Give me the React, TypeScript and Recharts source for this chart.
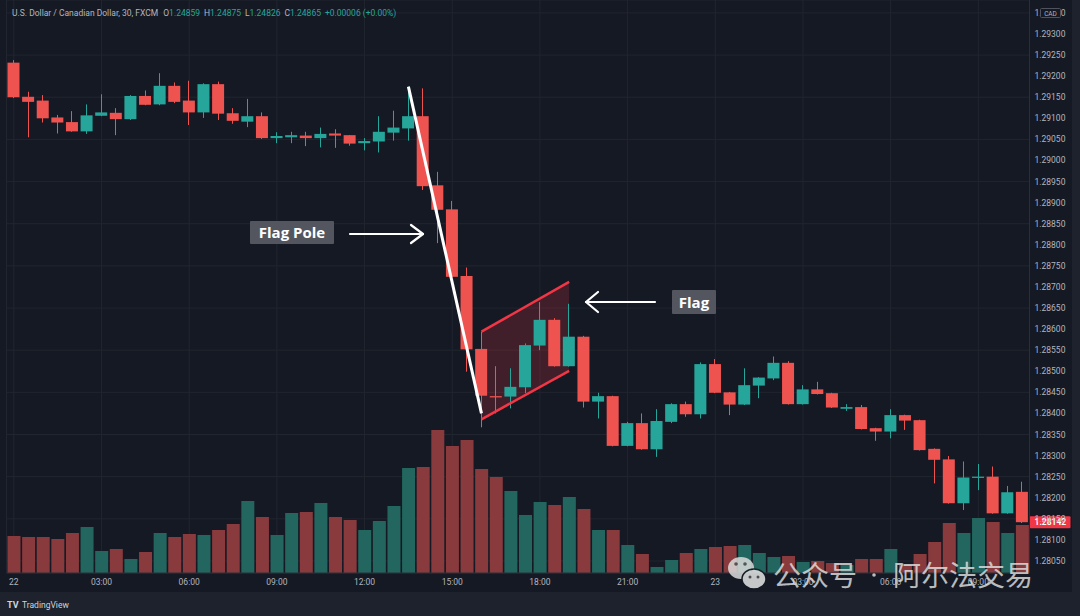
import React from "react"
import {
  ComposedChart,
  Bar,
  XAxis,
  YAxis,
  CartesianGrid,
  ReferenceLine,
  ReferenceArea,
} from "recharts"

const UP = "#26a69a"
const DOWN = "#ef5350"
const UP_VOL = "#22665f"
const DOWN_VOL = "#883a3d"
const TEXT = "#b2b5be"
const FONT = "Roboto, 'Noto Sans', sans-serif"

// 30 min bars, 22 00:00 -> 23 10:30
const times = Array.from({ length: 70 }, (_, i) => {
  const day = 22 + Math.floor(i / 48)
  const m = (i % 48) * 30
  return `${day} ${String(Math.floor(m / 60)).padStart(2, "0")}:${String(m % 60).padStart(2, "0")}`
})

const opens = [
  1.29232, 1.29151, 1.29142, 1.29102, 1.29091, 1.29069, 1.29106, 1.29113, 1.29098, 1.29153,
  1.29133, 1.29177, 1.29142, 1.29114, 1.29181, 1.29112, 1.29092, 1.29105, 1.29053, 1.29055,
  1.29059, 1.29053, 1.29064, 1.2906, 1.29041, 1.29045, 1.29066, 1.29076, 1.29105, 1.28941,
  1.28884, 1.28726, 1.28553, 1.28441, 1.2844, 1.28462, 1.28561, 1.28622, 1.28512, 1.28582,
  1.28428, 1.28441, 1.28323, 1.28377, 1.28315, 1.2838, 1.28422, 1.28398, 1.28517, 1.2845,
  1.28421, 1.28466, 1.28483, 1.2852, 1.28422, 1.28457, 1.28448, 1.28411, 1.28415, 1.28365,
  1.28357, 1.28396, 1.28384, 1.28316, 1.28291, 1.28187, 1.28247, 1.2825, 1.28163, 1.28214,
]
const highs = [
  1.29238, 1.29163, 1.29155, 1.29108, 1.29117, 1.29133, 1.29157, 1.29124, 1.29155, 1.29166,
  1.29207, 1.29185, 1.29189, 1.29183, 1.29187, 1.29124, 1.29146, 1.29114, 1.29067, 1.29068,
  1.29068, 1.29078, 1.29074, 1.2906, 1.29053, 1.29105, 1.29118, 1.29175, 1.29171, 1.28973,
  1.28904, 1.28746, 1.28594, 1.28512, 1.28507, 1.28566, 1.28664, 1.28626, 1.2866, 1.28584,
  1.28449, 1.28442, 1.2838, 1.284, 1.2841, 1.28424, 1.28428, 1.28521, 1.28529, 1.28451,
  1.28507, 1.28486, 1.28535, 1.28524, 1.28467, 1.28475, 1.28449, 1.28422, 1.2842, 1.28366,
  1.2841, 1.28397, 1.28385, 1.28317, 1.28299, 1.28286, 1.2828, 1.28274, 1.28228, 1.28238,
]
const lows = [
  1.29148, 1.29055, 1.2909, 1.29064, 1.29068, 1.29063, 1.29105, 1.2906, 1.29096, 1.29131,
  1.29131, 1.29136, 1.29084, 1.29101, 1.29096, 1.29087, 1.29079, 1.29051, 1.29041, 1.29041,
  1.29034, 1.29031, 1.2903, 1.29035, 1.29024, 1.29019, 1.29047, 1.29047, 1.2893, 1.28804,
  1.28723, 1.28499, 1.28367, 1.284, 1.28412, 1.28448, 1.2855, 1.28511, 1.28511, 1.28414,
  1.28388, 1.28322, 1.28322, 1.28314, 1.28297, 1.28377, 1.28392, 1.28388, 1.28448, 1.28396,
  1.2842, 1.28436, 1.28479, 1.28421, 1.28421, 1.28445, 1.28413, 1.28406, 1.28362, 1.28335,
  1.28341, 1.28361, 1.28312, 1.28234, 1.28186, 1.28171, 1.28218, 1.28162, 1.28162, 1.2814,
]
const closes = [
  1.2915, 1.29139, 1.291, 1.2909, 1.29069, 1.29107, 1.29114, 1.29098, 1.29153, 1.29132,
  1.29177, 1.29139, 1.29114, 1.29181, 1.29111, 1.29094, 1.29105, 1.29053, 1.29058, 1.2906,
  1.29053, 1.29063, 1.29059, 1.2904, 1.29046, 1.29068, 1.29078, 1.29105, 1.28939, 1.28883,
  1.28724, 1.28552, 1.28442, 1.28438, 1.28463, 1.28562, 1.28622, 1.28512, 1.28582, 1.28428,
  1.28441, 1.28323, 1.28377, 1.28315, 1.28382, 1.28422, 1.28398, 1.28517, 1.28449, 1.28421,
  1.28467, 1.28485, 1.2852, 1.28422, 1.28457, 1.28446, 1.28414, 1.28415, 1.28363, 1.28357,
  1.28396, 1.28383, 1.28313, 1.2829, 1.28187, 1.28248, 1.2825, 1.28163, 1.28213, 1.28142,
]
const volumes = [
  37, 36, 36, 34, 40, 46, 22, 24, 14, 21,
  40, 36, 39, 38, 43, 49, 72, 56, 38, 60,
  61, 70, 56, 53, 43, 52, 67, 105, 106, 143,
  127, 133, 104, 96, 82, 58, 71, 68, 76, 64,
  43, 43, 28, 19, 6, 13, 20, 24, 26, 27,
  28, 20, 16, 17, 11, 12, 10, 8, 14, 14,
  24, 8, 19, 31, 50, 40, 55, 51, 40, 48,
]

const priceTicks = [
  1.2805, 1.281, 1.2815, 1.282, 1.2825, 1.283, 1.2835, 1.284, 1.2845, 1.285,
  1.2855, 1.286, 1.2865, 1.287, 1.2875, 1.288, 1.2885, 1.289, 1.2895, 1.29,
  1.2905, 1.291, 1.2915, 1.292, 1.2925, 1.293, 1.2935,
]

// flag pole (bar 27 -> bar 32) and flag channel (bar 32 -> bar 38)
const poleTop = 1.29175
const poleBottom = 1.284
const flagUpper = [1.28594, 1.28712]
const flagLower = [1.28386, 1.28501]

const data = times.map((t, i) => ({
  t,
  open: opens[i],
  high: highs[i],
  low: lows[i],
  close: closes[i],
  vol: volumes[i],
}))

function Candle(props: any) {
  const { x, y, width, height, payload } = props
  if (!payload || height == null) return null
  const { open, close, high, low } = payload
  const h = Math.abs(height)
  const top = Math.min(y, y + height)
  const k = h / (high - low)
  const bodyTop = top + (high - Math.max(open, close)) * k
  const bodyBot = top + (high - Math.min(open, close)) * k
  const cx = Math.floor(x + width / 2) + 0.5
  const color = close >= open ? UP : DOWN
  return (
    <g>
      <line x1={cx} x2={cx} y1={top} y2={top + h} stroke={color} strokeWidth={1} />
      <rect x={x} y={bodyTop} width={width} height={Math.max(1, bodyBot - bodyTop)} fill={color} />
    </g>
  )
}

function VolumeBar(props: any) {
  const { x, y, width, height, payload } = props
  if (!payload) return null
  return (
    <rect
      x={x}
      y={y}
      width={width}
      height={Math.max(0, height)}
      fill={payload.close >= payload.open ? UP_VOL : DOWN_VOL}
    />
  )
}

function FlagFill(props: any) {
  const { x, y, width, height } = props
  const band = width / 7
  const lx = x + band / 2
  const rx = x + width - band / 2
  const k = height / (flagUpper[1] - flagLower[0])
  const pts = [
    [lx, y + (flagUpper[1] - flagUpper[0]) * k],
    [rx, y],
    [rx, y + (flagUpper[1] - flagLower[1]) * k],
    [lx, y + height],
  ]
  return <polygon points={pts.map((p) => p.join(",")).join(" ")} fill="rgba(242,54,69,0.2)" />
}

function PriceTag(props: any) {
  const { viewBox } = props
  if (!viewBox) return null
  const x = viewBox.x + viewBox.width
  const y = viewBox.y
  return (
    <g>
      <rect x={x} y={y - 6} width={41} height={12} fill="#f23645" rx={1} />
      <text x={x + 5} y={y + 3} fill="#fff" fontSize={8.5} fontWeight="bold" fontFamily={FONT}>
        {closes[closes.length - 1].toFixed(5)}
      </text>
    </g>
  )
}

function formatTime(t: string) {
  const [day, hm] = t.split(" ")
  return hm === "00:00" ? day : hm
}

export default function App() {
  return (
    <div
      style={{
        position: "absolute",
        left: 0,
        top: 0,
        width: 1080,
        height: 616,
        background: "#1e222d",
        overflow: "hidden",
        fontFamily: FONT,
      }}
    >
      <div style={{ position: "absolute", left: 0, top: 0, width: 1072, height: 592, background: "#151924" }} />
      <div style={{ position: "absolute", left: 0, top: 0 }}>
        <ComposedChart
          width={1080}
          height={616}
          data={data}
          margin={{ top: 0, right: 0, bottom: 0, left: 6.5 }}
        >
          <CartesianGrid stroke="#21252f" strokeWidth={1} />
          <XAxis
            dataKey="t"
            interval={5}
            height={43}
            tickLine={false}
            axisLine={{ stroke: "#2a2e39" }}
            tickSize={0}
            tickMargin={6}
            tickFormatter={formatTime}
            tick={{ fill: TEXT, fontSize: 8.5, fontFamily: FONT }}
          />
          <XAxis xAxisId="v" dataKey="t" hide />
          <YAxis
            orientation="right"
            width={50.5}
            type="number"
            domain={[1.280215, 1.293806]}
            allowDataOverflow
            ticks={priceTicks}
            tickFormatter={(v: number) => v.toFixed(5)}
            tickLine={false}
            tickSize={0}
            tickMargin={5}
            axisLine={{ stroke: "#2a2e39" }}
            tick={{ fill: TEXT, fontSize: 8.5, fontFamily: FONT }}
          />
          <YAxis yAxisId="v" hide domain={[0, 573]} />
          <Bar
            xAxisId="v"
            yAxisId="v"
            dataKey="vol"
            barSize={13}
            shape={VolumeBar}
            isAnimationActive={false}
          />
          <Bar
            dataKey={(d: any) => [d.low, d.high]}
            barSize={12}
            shape={Candle}
            isAnimationActive={false}
          />
          <ReferenceArea
            x1={times[32]}
            x2={times[38]}
            y1={flagLower[0]}
            y2={flagUpper[1]}
            shape={FlagFill}
          />
          <ReferenceLine
            segment={[
              { x: times[32], y: flagUpper[0] },
              { x: times[38], y: flagUpper[1] },
            ]}
            stroke="#f23645"
            strokeWidth={2.5}
          />
          <ReferenceLine
            segment={[
              { x: times[32], y: flagLower[0] },
              { x: times[38], y: flagLower[1] },
            ]}
            stroke="#f23645"
            strokeWidth={2.5}
          />
          <ReferenceLine
            segment={[
              { x: times[27], y: poleTop },
              { x: times[32], y: poleBottom },
            ]}
            stroke="#ffffff"
            strokeWidth={3}
          />
          <ReferenceLine y={closes[closes.length - 1]} stroke="none" label={<PriceTag />} />
        </ComposedChart>
      </div>

      <svg
        width={1080}
        height={616}
        style={{ position: "absolute", left: 0, top: 0, pointerEvents: "none" }}
      >
        {/* header */}
        <text x={12} y={16} fontSize={8.5} fontFamily={FONT} fill={TEXT}>
          U.S. Dollar / Canadian Dollar, 30, FXCM
          <tspan dx={5}>O</tspan>
          <tspan fill={UP}>1.24859</tspan>
          <tspan dx={4}>H</tspan>
          <tspan fill={UP}>1.24875</tspan>
          <tspan dx={4}>L</tspan>
          <tspan fill={UP}>1.24826</tspan>
          <tspan dx={4}>C</tspan>
          <tspan fill={UP}>1.24865</tspan>
          <tspan dx={4} fill={UP}>+0.00006 (+0.00%)</tspan>
        </text>

        {/* CAD badge on the price scale */}
        <rect x={1040.5} y={8.5} width={20} height={9} fill="#151924" stroke="#50535e" rx={1} />
        <text x={1050.5} y={15.5} fontSize={6.5} fill={TEXT} fontFamily={FONT} textAnchor="middle">
          CAD
        </text>

        {/* Flag Pole label */}
        <rect x={250} y={221} width={84} height={23} fill="#53565f" rx={1} />
        <text x={292} y={238} fontSize={15} fontWeight="bold" fill="#fff" fontFamily="'Open Sans', sans-serif" textAnchor="middle">
          Flag Pole
        </text>
        <g stroke="#fff" strokeWidth={2.2} fill="none" strokeLinecap="round" strokeLinejoin="round">
          <line x1={350} y1={234} x2={423} y2={234} />
          <polyline points="411,225 423,234 411,243" />
          <line x1={655} y1={302} x2={586} y2={302} />
          <polyline points="598,292 586,302 598,312" />
        </g>

        {/* Flag label */}
        <rect x={672} y={290} width={44} height={24} fill="#53565f" rx={1} />
        <text x={694} y={308} fontSize={15} fontWeight="bold" fill="#fff" fontFamily="'Open Sans', sans-serif" textAnchor="middle">
          Flag
        </text>

        {/* TradingView logo */}
        <text x={7} y={608} fontSize={9} fontWeight="bold" fill="#d1d4dc" fontFamily={FONT}>
          TV
        </text>
        <text x={22} y={608} fontSize={8.5} fill="#d1d4dc" fontFamily={FONT}>
          TradingView
        </text>

        {/* watermark */}
        <g opacity={0.85}>
          <ellipse cx={741} cy={568} rx={13} ry={11} fill="#dcdcdc" />
          <ellipse cx={754} cy={579} rx={12} ry={10} fill="#e6e6e6" stroke="#151924" strokeWidth={1.5} />
          <circle cx={736} cy={564} r={1.8} fill="#555" />
          <circle cx={745} cy={564} r={1.8} fill="#555" />
          <circle cx={750} cy={577} r={1.5} fill="#555" />
          <circle cx={758} cy={577} r={1.5} fill="#555" />
        </g>
        <g fill="rgba(225,225,225,0.82)" fontFamily="'Noto Sans CJK SC', sans-serif" fontSize={28}>
          <text x={773} y={586}>公众号</text>
          <circle cx={874} cy={575} r={1.8} />
          <text x={893} y={586}>阿尔法交易</text>
        </g>
      </svg>
    </div>
  )
}
